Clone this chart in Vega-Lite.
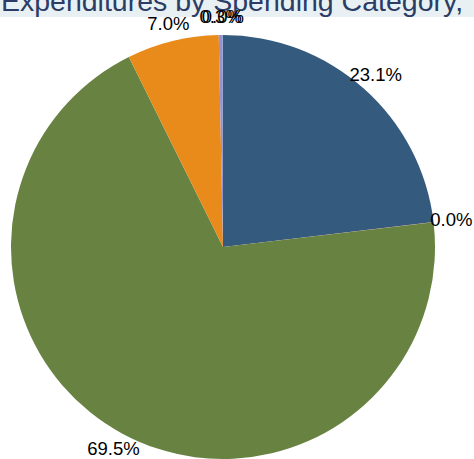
{
  "$schema": "https://vega.github.io/schema/vega-lite/v6.json",
  "padding": 0,
  "spacing": 18,
  "bounds": "flush",
  "config": {"view": {"stroke": null}},
  "datasets": {
    "title": [{"t": "Expenditures by Spending Category,"}],
    "shares": [
      {"idx": 1, "category": "A", "share": 0.231},
      {"idx": 2, "category": "B", "share": 0.0002},
      {"idx": 3, "category": "C", "share": 0.695},
      {"idx": 4, "category": "D", "share": 0.070},
      {"idx": 5, "category": "E", "share": 0.003},
      {"idx": 6, "category": "F", "share": 0.0002}
    ]
  },
  "vconcat": [
    {
      "width": 474,
      "height": 17,
      "view": {"fill": "#e9f0f3", "stroke": null},
      "data": {"name": "title"},
      "mark": {"type": "text", "clip": true, "font": "Liberation Sans", "fontSize": 28.5, "align": "center", "baseline": "alphabetic", "dx": -5, "dy": 2, "fill": "#2b3d66"},
      "encoding": {"text": {"field": "t", "type": "nominal"}}
    },
    {
      "width": 446,
      "height": 424,
      "data": {"name": "shares"},
      "encoding": {
        "theta": {"field": "share", "type": "quantitative", "stack": true},
        "order": {"field": "idx", "type": "quantitative"}
      },
      "layer": [
        {
          "mark": {"type": "arc", "stroke": null},
          "encoding": {
            "color": {
              "field": "category",
              "type": "nominal",
              "scale": {"domain": ["A", "B", "C", "D", "E", "F"], "range": ["#345a7e", "#c0504d", "#678241", "#e88b1a", "#9a90cf", "#4bacc6"]},
              "legend": null
            }
          }
        },
        {
          "mark": {"type": "text", "radius": 230, "font": "Liberation Sans", "fontSize": 18.5, "fill": "#000000", "align": "center", "baseline": "middle"},
          "encoding": {"text": {"field": "share", "type": "quantitative", "format": ".1%"}}
        }
      ]
    }
  ]
}
